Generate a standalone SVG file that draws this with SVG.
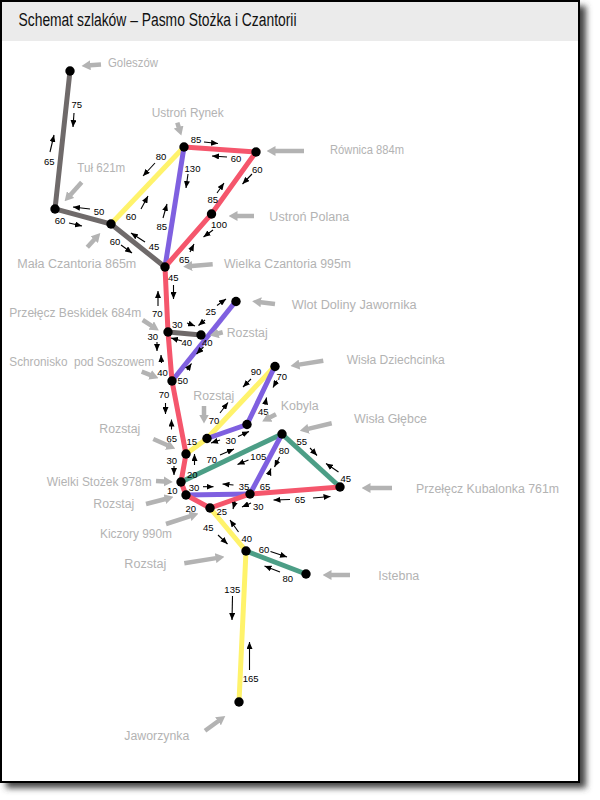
<svg xmlns="http://www.w3.org/2000/svg" width="600" height="800" viewBox="0 0 600 800">
<defs>
<style>
.lbl{font-family:"Liberation Sans","DejaVu Sans",sans-serif;font-size:12.5px;fill:#b3b3b3}
.num{font-family:"Liberation Sans","DejaVu Sans",sans-serif;font-size:9.5px;fill:#000;text-anchor:middle}
.ttl{font-family:"Liberation Sans","DejaVu Sans",sans-serif;font-size:18px;fill:#111}
.ga{stroke:#b3b3b3;stroke-width:4.5;fill:none;marker-end:url(#gh)}
.ba{stroke:#000;stroke-width:1.1;fill:none;marker-end:url(#ah)}
.t{fill:none;stroke-width:5}
.gr{stroke:#6f6a6a}.ye{stroke:#fff36b}.pu{stroke:#7f60e0}.re{stroke:#f5566c}.gn{stroke:#4c9e86}
.nd{fill:#000}
</style>
<marker id="ah" markerUnits="userSpaceOnUse" viewBox="0 0 7 6" markerWidth="7" markerHeight="6" refX="7" refY="3" orient="auto"><path d="M0,0 L7,3 L0,6 z" fill="#000"/></marker>
<marker id="gh" markerUnits="userSpaceOnUse" viewBox="0 0 9 10" markerWidth="9" markerHeight="10" refX="0.5" refY="5" orient="auto"><path d="M0,0 L9,5 L0,10 z" fill="#b3b3b3"/></marker>
<filter id="sh" x="-5%" y="-5%" width="115%" height="115%"><feGaussianBlur stdDeviation="3"/></filter>
</defs>
<rect x="0" y="0" width="600" height="800" fill="#fff"/>
<rect x="6" y="6" width="580" height="782" fill="#444" filter="url(#sh)"/>
<rect x="1" y="1" width="578" height="781" fill="#fff" stroke="#000" stroke-width="2"/>
<rect x="2" y="2" width="576" height="39" fill="#ebebeb"/>
<text class="ttl" x="18.5" y="26" textLength="278" lengthAdjust="spacingAndGlyphs">Schemat szlaków – Pasmo Stożka i Czantorii</text>

<g id="connectors">
<polyline class="t gr" points="70,71 55,209 111,224 165,267"/>
<line class="t gr" x1="168" y1="332" x2="201" y2="335"/>
<line class="t ye" x1="111" y1="224" x2="184" y2="147"/>
<polyline class="t ye" points="186,454 207,438.5 275,366"/>
<polyline class="t ye" points="210,508 246,551 239,702"/>
<line class="t gn" x1="181" y1="482" x2="282" y2="434"/>
<line class="t gn" x1="282" y1="434" x2="340" y2="487"/>
<line class="t gn" x1="246" y1="551" x2="306" y2="574"/>
<line class="t pu" x1="184" y1="147" x2="165" y2="267"/>
<line class="t pu" x1="236" y1="301" x2="172" y2="381"/>
<polyline class="t pu" points="207,438.5 247,424.5 275,366"/>
<line class="t pu" x1="186" y1="495" x2="250" y2="494"/>
<line class="t pu" x1="250" y1="494" x2="282" y2="434"/>
<polyline class="t re" points="184,147 256,152 211.5,214 165,267 168,332 172,381 186,454 181,482 186,495 210,508 250,494 340,487"/>
</g>

<g id="trail-times">
<line class="ba" x1="74" y1="113" x2="73" y2="127"/><text class="num" x="76.7" y="107.8">75</text>
<line class="ba" x1="50" y1="152" x2="54" y2="135"/><text class="num" x="49.3" y="165.2">65</text>
<line class="ba" x1="90" y1="209" x2="73" y2="207"/><text class="num" x="99" y="215.2">50</text>
<line class="ba" x1="69" y1="223" x2="82" y2="226"/><text class="num" x="60" y="223.5">60</text>
<line class="ba" x1="155" y1="163" x2="143" y2="176"/><text class="num" x="161" y="160.2">80</text>
<line class="ba" x1="141" y1="209" x2="148" y2="196"/><text class="num" x="131" y="220.2">60</text>
<line class="ba" x1="188" y1="174" x2="186" y2="188"/><text class="num" x="192.5" y="171.5">130</text>
<line class="ba" x1="163" y1="218" x2="167" y2="204"/><text class="num" x="161.7" y="230.2">85</text>
<line class="ba" x1="121" y1="245" x2="132" y2="253"/><text class="num" x="115" y="245.2">60</text>
<line class="ba" x1="145" y1="242" x2="131" y2="233"/><text class="num" x="154" y="250.2">45</text>
<line class="ba" x1="204" y1="142" x2="218" y2="143.5"/><text class="num" x="196" y="142.8">85</text>
<line class="ba" x1="190" y1="252" x2="194" y2="244"/><text class="num" x="184.3" y="262.5">65</text>
<line class="ba" x1="173.5" y1="285" x2="173.5" y2="299"/><text class="num" x="173.3" y="280.8">45</text>
<line class="ba" x1="227" y1="157" x2="212" y2="156"/><text class="num" x="236" y="161.8">60</text>
<line class="ba" x1="252" y1="174" x2="242.5" y2="184"/><text class="num" x="257.3" y="172.5">60</text>
<line class="ba" x1="217" y1="193" x2="224" y2="183"/><text class="num" x="212.7" y="202.8">85</text>
<line class="ba" x1="213" y1="230" x2="203.5" y2="237"/><text class="num" x="219" y="227.5">100</text>
<line class="ba" x1="158" y1="306" x2="158" y2="291"/><text class="num" x="157.2" y="316.8">70</text>
<line class="ba" x1="217" y1="305.5" x2="226" y2="299"/><line class="ba" x1="205" y1="320" x2="198.5" y2="325.5"/><text class="num" x="210.7" y="315.2">25</text>
<line class="ba" x1="187" y1="323" x2="195" y2="326"/><text class="num" x="177.3" y="327.8">30</text>
<line class="ba" x1="182" y1="341" x2="171" y2="338"/><text class="num" x="186.7" y="346.2">40</text>
<line class="ba" x1="203.5" y1="347" x2="196.5" y2="354"/><text class="num" x="207.3" y="346.2">40</text>
<line class="ba" x1="157" y1="342" x2="157" y2="351"/><text class="num" x="152.7" y="340.2">30</text>
<line class="ba" x1="161.5" y1="363" x2="161" y2="355"/><text class="num" x="162.5" y="375.5">40</text>
<line class="ba" x1="187" y1="370" x2="191.5" y2="363.5"/><text class="num" x="182.7" y="384.2">50</text>
<line class="ba" x1="165.5" y1="403" x2="165.5" y2="414"/><text class="num" x="164" y="398">70</text>
<line class="ba" x1="171.5" y1="429.5" x2="171.5" y2="419.5"/><text class="num" x="171.7" y="441.8">65</text>
<line class="ba" x1="251" y1="379" x2="243" y2="387"/><text class="num" x="256" y="375.2">90</text>
<line class="ba" x1="277" y1="380.5" x2="273" y2="387.5"/><text class="num" x="281.7" y="379.5">70</text>
<line class="ba" x1="265" y1="405" x2="266.5" y2="397.5"/><text class="num" x="263.3" y="415.2">45</text>
<line class="ba" x1="220" y1="413" x2="228" y2="402.5"/><text class="num" x="214" y="424.2">70</text>
<line class="ba" x1="220" y1="440" x2="211" y2="443"/><line class="ba" x1="238" y1="436.5" x2="249" y2="431.5"/><text class="num" x="230.7" y="444.2">30</text>
<text class="num" x="191.7" y="444.5">15</text>
<line class="ba" x1="194.5" y1="465" x2="194.5" y2="454"/><text class="num" x="192.3" y="477.5">20</text>
<line class="ba" x1="220" y1="455" x2="234" y2="449"/><text class="num" x="211.7" y="462.8">70</text>
<line class="ba" x1="248.5" y1="460" x2="237.5" y2="464.5"/><text class="num" x="258.3" y="459.5">105</text>
<line class="ba" x1="279.5" y1="457" x2="274.5" y2="467"/><text class="num" x="284" y="454.2">80</text>
<line class="ba" x1="310" y1="448" x2="317" y2="455.5"/><text class="num" x="301.7" y="445.2">55</text>
<line class="ba" x1="338.5" y1="472" x2="326" y2="463.5"/><text class="num" x="345.7" y="481.8">45</text>
<line class="ba" x1="268.5" y1="475" x2="271" y2="468.5"/><text class="num" x="265" y="489.5">65</text>
<line class="ba" x1="233.5" y1="485" x2="222.5" y2="484"/><text class="num" x="244" y="489.5">35</text>
<line class="ba" x1="203" y1="486.7" x2="213.5" y2="486.7"/><text class="num" x="194" y="490.8">30</text>
<line class="ba" x1="290" y1="499.5" x2="273.5" y2="500"/><line class="ba" x1="313" y1="498" x2="330.5" y2="496.5"/><text class="num" x="300" y="502.8">65</text>
<line class="ba" x1="251" y1="503" x2="242" y2="507"/><text class="num" x="258.3" y="509.5">30</text>
<line class="ba" x1="235" y1="501.5" x2="233" y2="509"/><text class="num" x="221.7" y="515.2">25</text>
<text class="num" x="190.7" y="511.8">20</text>
<text class="num" x="172.3" y="494.2">10</text>
<line class="ba" x1="174" y1="466" x2="174" y2="475"/><text class="num" x="171.7" y="463.5">30</text>
<line class="ba" x1="218" y1="535" x2="227.5" y2="544"/><text class="num" x="208.3" y="531.2">45</text>
<line class="ba" x1="238.5" y1="532" x2="230" y2="520"/><text class="num" x="246.7" y="541.8">40</text>
<line class="ba" x1="270.5" y1="551.5" x2="287" y2="557"/><text class="num" x="264" y="552.8">60</text>
<line class="ba" x1="280" y1="572" x2="264.5" y2="566"/><text class="num" x="287.7" y="581.8">80</text>
<line class="ba" x1="232.5" y1="596" x2="232" y2="620"/><text class="num" x="232.3" y="592.8">135</text>
<line class="ba" x1="249.5" y1="670" x2="249.5" y2="642"/><text class="num" x="250.7" y="681.8">165</text>
</g>

<g id="n-goleszow"><circle class="nd" cx="70" cy="71" r="4.7"/><line class="ga" x1="101" y1="64.5" x2="90" y2="65.3"/><text class="lbl" x="108" y="67.3" textLength="50" lengthAdjust="spacingAndGlyphs">Goleszów</text></g>
<g id="n-tul"><circle class="nd" cx="55" cy="209" r="4.7"/><line class="ga" x1="81.7" y1="182.3" x2="70.3" y2="195"/><text class="lbl" x="77.3" y="172" textLength="48" lengthAdjust="spacingAndGlyphs">Tuł 621m</text></g>
<g id="n-mala-czantoria"><circle class="nd" cx="111" cy="224" r="4.7"/><line class="ga" x1="87.3" y1="247.3" x2="94.6" y2="239.3"/><text class="lbl" x="17.3" y="268.3" textLength="119" lengthAdjust="spacingAndGlyphs">Mała Czantoria 865m</text></g>
<g id="n-ustron-rynek"><circle class="nd" cx="184" cy="147" r="4.7"/><line class="ga" x1="177.3" y1="122.7" x2="178.8" y2="127.5"/><text class="lbl" x="151.7" y="117.3" textLength="72" lengthAdjust="spacingAndGlyphs">Ustroń Rynek</text></g>
<g id="n-rownica"><circle class="nd" cx="256" cy="152" r="4.7"/><line class="ga" x1="304" y1="151" x2="275" y2="151"/><text class="lbl" x="330" y="154" textLength="74" lengthAdjust="spacingAndGlyphs">Równica 884m</text></g>
<g id="n-ustron-polana"><circle class="nd" cx="211.5" cy="214" r="4.7"/><line class="ga" x1="254" y1="216" x2="237" y2="216"/><text class="lbl" x="269.3" y="220.7" textLength="80" lengthAdjust="spacingAndGlyphs">Ustroń Polana</text></g>
<g id="n-wielka-czantoria"><circle class="nd" cx="165" cy="267" r="4.7"/><line class="ga" x1="212.7" y1="264.3" x2="191.7" y2="266"/><text class="lbl" x="224" y="268.3" textLength="127" lengthAdjust="spacingAndGlyphs">Wielka Czantoria 995m</text></g>
<g id="n-beskidek"><circle class="nd" cx="168" cy="332" r="4.7"/><line class="ga" x1="142.7" y1="320" x2="151.7" y2="325.8"/><text class="lbl" x="9.3" y="316.7" textLength="132" lengthAdjust="spacingAndGlyphs">Przełęcz Beskidek 684m</text></g>
<g id="n-rozstaj-1"><circle class="nd" cx="201" cy="335" r="4.7"/><line class="ga" x1="222.7" y1="332.3" x2="218" y2="333.5"/><text class="lbl" x="226.7" y="337.3" textLength="41" lengthAdjust="spacingAndGlyphs">Rozstaj</text></g>
<g id="n-wlot"><circle class="nd" cx="236" cy="301.5" r="4.7"/><line class="ga" x1="275" y1="304" x2="260.6" y2="302.2"/><text class="lbl" x="291.7" y="309.3" textLength="125" lengthAdjust="spacingAndGlyphs">Wlot Doliny Jawornika</text></g>
<g id="n-schronisko"><circle class="nd" cx="172" cy="381" r="4.7"/><line class="ga" x1="141.7" y1="371.7" x2="150.6" y2="375.1"/><text class="lbl" x="9.3" y="365.7" style="font-size:12px" textLength="145" lengthAdjust="spacingAndGlyphs" xml:space="preserve">Schronisko  pod Soszowem</text></g>
<g id="n-dziechcinka"><circle class="nd" cx="275" cy="366.5" r="4.7"/><line class="ga" x1="323.3" y1="360.7" x2="298.9" y2="364.6"/><text class="lbl" x="346.7" y="364" textLength="98" lengthAdjust="spacingAndGlyphs">Wisła Dziechcinka</text></g>
<g id="n-rozstaj-2"><circle class="nd" cx="207" cy="438.5" r="4.7"/><line class="ga" x1="204" y1="406" x2="204" y2="415"/><text class="lbl" x="193.3" y="400" textLength="41" lengthAdjust="spacingAndGlyphs">Rozstaj</text></g>
<g id="n-kobyla"><circle class="nd" cx="247" cy="424.5" r="4.7"/><line class="ga" x1="276" y1="414.3" x2="269.7" y2="417.6"/><text class="lbl" x="280.7" y="410" textLength="38" lengthAdjust="spacingAndGlyphs">Kobyla</text></g>
<g id="n-glebce"><circle class="nd" cx="282" cy="434" r="4.7"/><line class="ga" x1="331.7" y1="423.3" x2="308.1" y2="428.9"/><text class="lbl" x="354" y="423.3" textLength="73" lengthAdjust="spacingAndGlyphs">Wisła Głębce</text></g>
<g id="n-rozstaj-3"><circle class="nd" cx="186" cy="454" r="4.7"/><line class="ga" x1="153.3" y1="439" x2="167.5" y2="445.3"/><text class="lbl" x="99.3" y="433.3" textLength="41" lengthAdjust="spacingAndGlyphs">Rozstaj</text></g>
<g id="n-wielki-stozek"><circle class="nd" cx="181" cy="482" r="4.7"/><line class="ga" x1="156" y1="481" x2="164.3" y2="481.5"/><text class="lbl" x="46.7" y="486" textLength="105" lengthAdjust="spacingAndGlyphs">Wielki Stożek 978m</text></g>
<g id="n-rozstaj-4"><circle class="nd" cx="186" cy="495" r="4.7"/><line class="ga" x1="146" y1="504" x2="165.3" y2="499"/><text class="lbl" x="93.3" y="508.3" textLength="41" lengthAdjust="spacingAndGlyphs">Rozstaj</text></g>
<g id="n-junction"><circle class="nd" cx="250" cy="494" r="4.7"/></g>
<g id="n-kubalonka"><circle class="nd" cx="340" cy="487" r="4.7"/><line class="ga" x1="392" y1="488" x2="370" y2="488"/><text class="lbl" x="416" y="492.7" textLength="143" lengthAdjust="spacingAndGlyphs">Przełęcz Kubalonka 761m</text></g>
<g id="n-kiczory"><circle class="nd" cx="210" cy="508" r="4.7"/><line class="ga" x1="166" y1="524" x2="190.4" y2="516.1"/><text class="lbl" x="100" y="538.3" textLength="72" lengthAdjust="spacingAndGlyphs">Kiczory 990m</text></g>
<g id="n-rozstaj-5"><circle class="nd" cx="246" cy="551" r="4.7"/><line class="ga" x1="184.3" y1="563.3" x2="216.1" y2="558.1"/><text class="lbl" x="124.3" y="567.7" textLength="42" lengthAdjust="spacingAndGlyphs">Rozstaj</text></g>
<g id="n-istebna"><circle class="nd" cx="306" cy="574" r="4.7"/><line class="ga" x1="350" y1="575" x2="331" y2="575"/><text class="lbl" x="378.3" y="580" textLength="41" lengthAdjust="spacingAndGlyphs">Istebna</text></g>
<g id="n-jaworzynka"><circle class="nd" cx="239" cy="702" r="4.7"/><line class="ga" x1="205" y1="730.7" x2="218.4" y2="721"/><text class="lbl" x="124.3" y="740" textLength="65" lengthAdjust="spacingAndGlyphs">Jaworzynka</text></g>
</svg>
